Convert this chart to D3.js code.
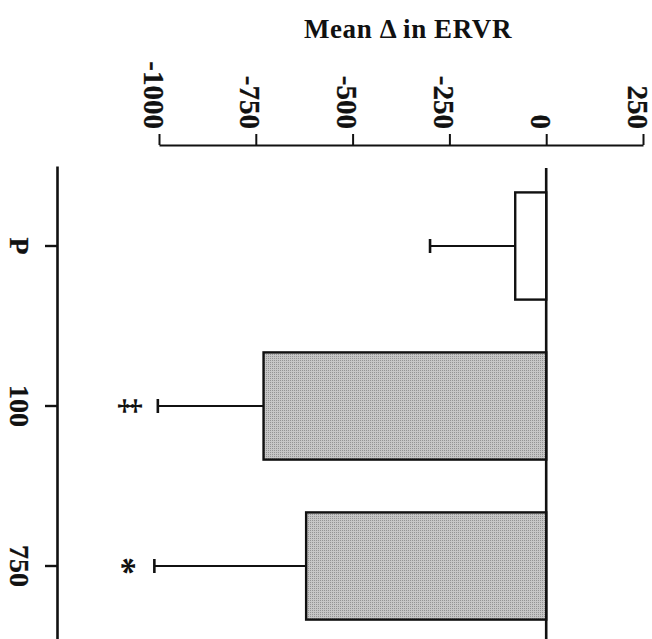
<!DOCTYPE html>
<html>
<head>
<meta charset="utf-8">
<script src="https://cdn.jsdelivr.net/npm/d3@7"></script>
<style>
  html, body { margin: 0; padding: 0; background: #fff; }
  svg { display: block; font-family: "Liberation Serif", "Times New Roman", serif; font-weight: bold; }
</style>
</head>
<body>
<svg id="chart" width="652" height="639"></svg>
<script>
// ---- data ----
const categories = ["P", "100", "750"];
const means = [-80, -730, -620];
const errors = [220, 273, 392];
const markers = ["", "\u2021", "*"];
const fills = ["white", "url(#grain)", "url(#grain)"];
const valueTicks = [-1000, -750, -500, -250, 0, 250];
const title = "Mean \u0394 in ERVR";

const svg = d3.select("#chart");

// texture pattern for shaded bars
const defs = svg.append("defs");
const pat = defs.append("pattern").attr("id", "grain")
  .attr("width", 2).attr("height", 2).attr("patternUnits", "userSpaceOnUse");
pat.append("rect").attr("width", 2).attr("height", 2).attr("fill", "#c6c6c6");
pat.append("rect").attr("width", 1).attr("height", 1).attr("fill", "#939393");

const axisY = 145;
const catX = 57;

const x = d3.scaleLinear().domain([-1000, 250]).range([159, 643]);
const y = d3.scaleBand().domain(categories).range([166, 646])
  .paddingInner(0.33).paddingOuter(0.165);

const rows = categories.map((c, i) => ({ c, m: means[i], e: errors[i], mk: markers[i], f: fills[i] }));

// title
svg.append("text").attr("x", 408).attr("y", 38).attr("text-anchor", "middle")
  .attr("font-size", 27).attr("letter-spacing", 0.6).attr("fill", "#111").text(title);

// top value axis
const gx = svg.append("g").attr("transform", `translate(0,${axisY})`)
  .call(d3.axisTop(x).tickValues(valueTicks).tickFormat(d => String(d)).tickSize(11).tickSizeOuter(0));
gx.select(".domain").attr("stroke", "#111").attr("stroke-width", 2.2);
gx.selectAll(".tick line").attr("stroke", "#111").attr("stroke-width", 2);
gx.selectAll(".tick text")
  .attr("x", null).attr("y", null).attr("dy", null)
  .attr("transform", "translate(-6,-16) rotate(90)")
  .attr("text-anchor", "end").attr("dominant-baseline", "central")
  .attr("font-size", 29).attr("font-family", "Liberation Serif, serif").attr("font-weight", "bold")
  .attr("fill", "#111").attr("stroke", "#111").attr("stroke-width", 0.3);

// left category axis
const gy = svg.append("g").attr("transform", `translate(${catX},0)`)
  .call(d3.axisLeft(y).tickSize(12).tickSizeOuter(0));
gy.select(".domain").attr("stroke", "#111").attr("stroke-width", 2.6);
gy.selectAll(".tick line").attr("stroke", "#111").attr("stroke-width", 2.4);
gy.selectAll(".tick text")
  .attr("x", null).attr("y", null).attr("dy", null)
  .attr("transform", "translate(-38,0) rotate(90)")
  .attr("text-anchor", "middle").attr("dominant-baseline", "central")
  .attr("font-size", 28).attr("font-family", "Liberation Serif, serif").attr("font-weight", "bold")
  .attr("fill", "#111").attr("stroke", "#111").attr("stroke-width", 0.3);

// zero baseline
svg.append("line")
  .attr("x1", x(0)).attr("x2", x(0))
  .attr("y1", y.range()[0] + 2).attr("y2", y.range()[1])
  .attr("stroke", "#111").attr("stroke-width", 2.6);

// error bars
const eb = svg.append("g").selectAll("g").data(rows).join("g");
eb.append("line")
  .attr("x1", d => x(d.m)).attr("x2", d => x(d.m - d.e))
  .attr("y1", d => y(d.c) + y.bandwidth() / 2).attr("y2", d => y(d.c) + y.bandwidth() / 2)
  .attr("stroke", "#111").attr("stroke-width", 2.2);
eb.append("line")
  .attr("x1", d => x(d.m - d.e)).attr("x2", d => x(d.m - d.e))
  .attr("y1", d => y(d.c) + y.bandwidth() / 2 - 7).attr("y2", d => y(d.c) + y.bandwidth() / 2 + 7)
  .attr("stroke", "#111").attr("stroke-width", 2.6);

// bars
svg.append("g").selectAll("rect").data(rows).join("rect")
  .attr("x", d => x(d.m)).attr("width", d => x(0) - x(d.m))
  .attr("y", d => y(d.c)).attr("height", y.bandwidth())
  .attr("fill", d => d.f).attr("stroke", "#111").attr("stroke-width", 2.4);

// significance markers
svg.append("g").selectAll("text").data(rows.filter(d => d.mk)).join("text")
  .attr("transform", d => {
    const off = d.mk === "*" ? 31 : 26;
    return `translate(${x(d.m - d.e) - off},${y(d.c) + y.bandwidth() / 2}) rotate(90)`;
  })
  .attr("text-anchor", "middle").attr("dominant-baseline", "central")
  .attr("font-size", d => d.mk === "*" ? 36 : 30).attr("fill", "#111")
  .text(d => d.mk);
</script>
</body>
</html>
